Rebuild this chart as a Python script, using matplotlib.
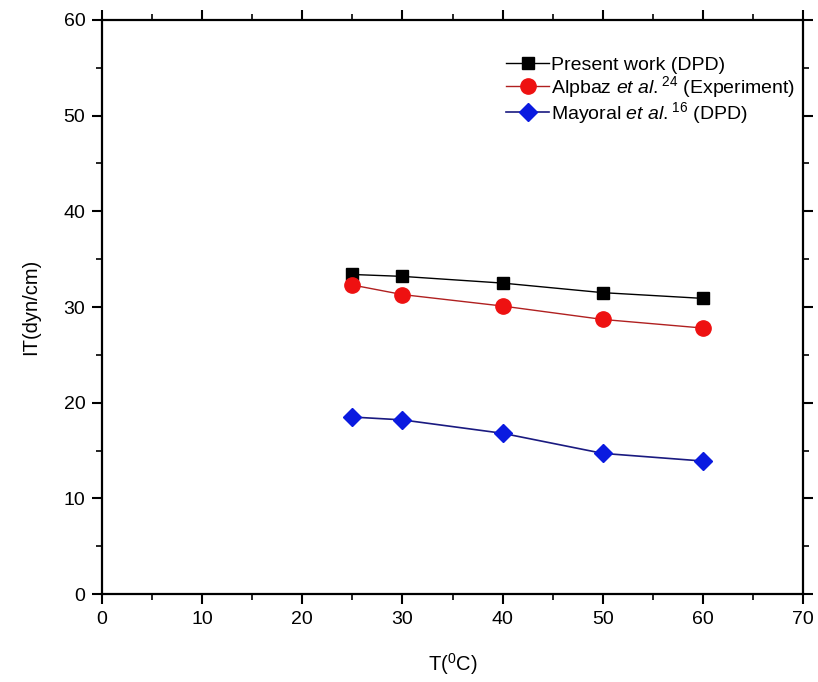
import matplotlib

matplotlib.use("Agg")
import matplotlib.pyplot as plt
from matplotlib.ticker import MultipleLocator

# data
temps = [25, 30, 40, 50, 60]
present_dpd = [33.4, 33.2, 32.5, 31.5, 30.9]
alpbaz_exp = [32.3, 31.3, 30.1, 28.7, 27.8]
mayoral_dpd = [18.5, 18.2, 16.8, 14.7, 13.9]

labels = [
    "Present work (DPD)",
    r"Alpbaz $\mathit{et\ al.}^{\mathrm{24}}$ (Experiment)",
    r"Mayoral $\mathit{et\ al.}^{\mathrm{16}}$ (DPD)",
]

plt.rcParams["font.family"] = ["Liberation Sans", "DejaVu Sans"]
plt.rcParams["mathtext.fontset"] = "custom"
plt.rcParams["mathtext.rm"] = "Liberation Sans"
plt.rcParams["mathtext.it"] = "Liberation Sans:italic"

fig = plt.figure(figsize=(8.18, 6.82), dpi=100)
ax = fig.add_axes([0.1247, 0.129, 0.857, 0.8417])

ax.plot(temps, present_dpd, color="black", lw=1.0, marker="s", ms=9,
        mfc="black", mec="black", label=labels[0])
ax.plot(temps, alpbaz_exp, color="#b02020", lw=1.0, marker="o", ms=11,
        mfc="#ee1111", mec="#ee1111", label=labels[1])
ax.plot(temps, mayoral_dpd, color="#1a1a80", lw=1.2, marker="D", ms=9,
        mfc="#0a1ae0", mec="#0a1ae0", label=labels[2])

ax.set_xlim(0, 70)
ax.set_ylim(0, 60)
ax.xaxis.set_major_locator(MultipleLocator(10))
ax.xaxis.set_minor_locator(MultipleLocator(5))
ax.yaxis.set_major_locator(MultipleLocator(10))
ax.yaxis.set_minor_locator(MultipleLocator(5))
ax.tick_params(which="both", direction="out", top=True, right=True,
               labeltop=False, labelright=False)
ax.tick_params(which="major", length=7, width=1.5, labelsize=14, pad=5)
ax.tick_params(which="minor", length=4, width=1.2)
for s in ax.spines.values():
    s.set_linewidth(1.6)

ax.set_xlabel(r"T($^{0}$C)", fontsize=14.5, labelpad=17)
ax.set_ylabel("IT(dyn/cm)", fontsize=14.5, labelpad=17)

ax.legend(loc="upper right", frameon=False, fontsize=14, handlelength=2.2,
          handletextpad=0.1, labelspacing=0.0, borderaxespad=0.0,
          bbox_to_anchor=(1.0, 0.95))

fig.savefig("out.png", dpi=100)
